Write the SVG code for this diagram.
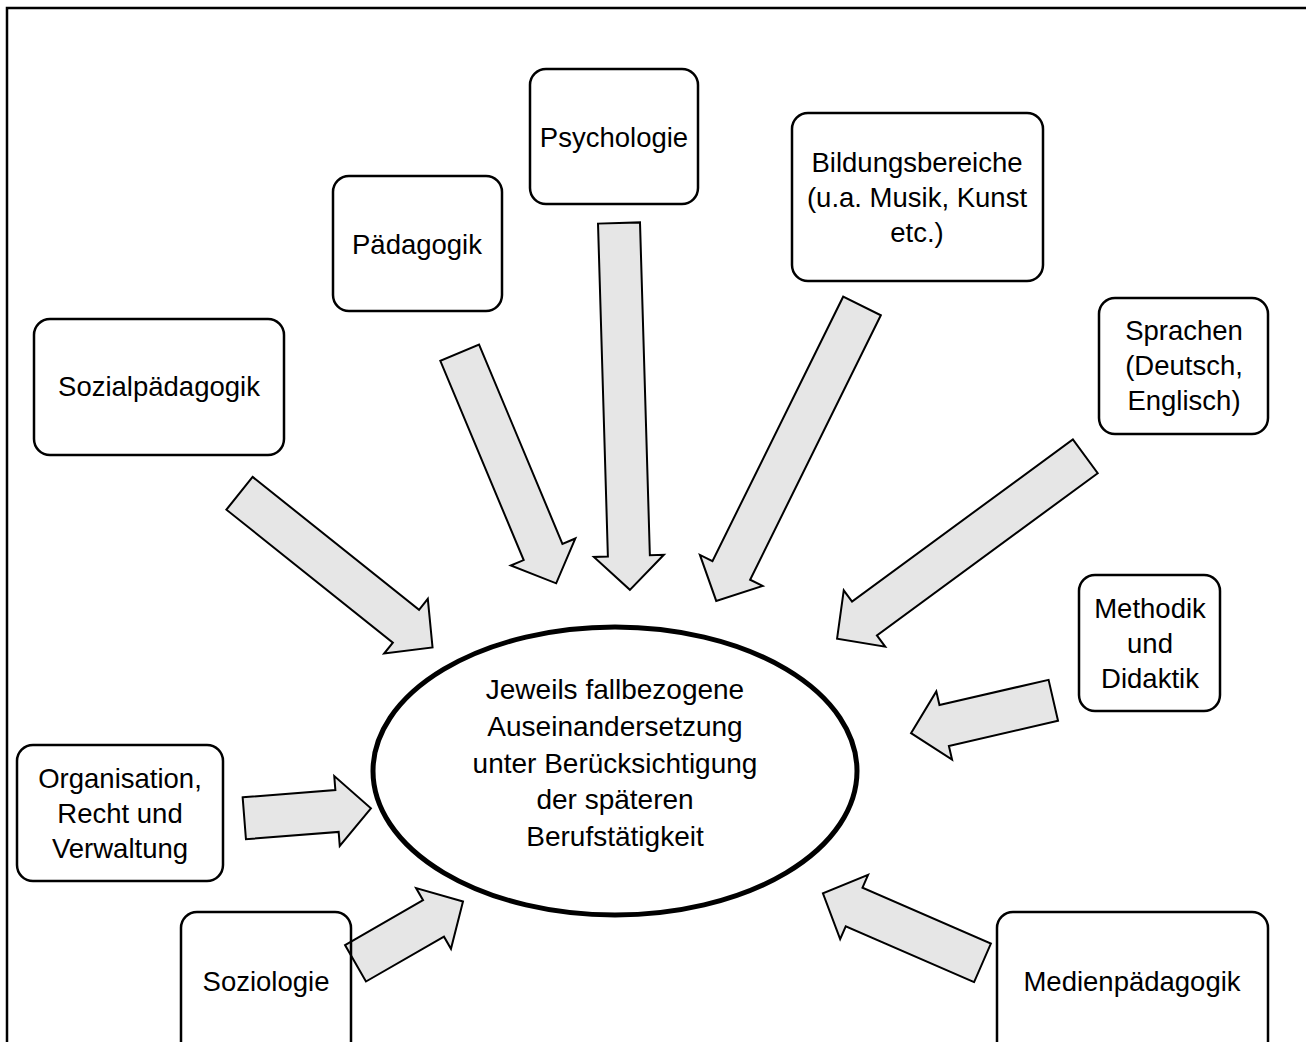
<svg xmlns="http://www.w3.org/2000/svg" width="1306" height="1042" viewBox="0 0 1306 1042">
<style>
.box{fill:none;stroke:#000;stroke-width:2.5}
.arr{fill:#e6e6e6;stroke:#000;stroke-width:2;stroke-linejoin:miter}
text{font-family:"Liberation Sans",Arial,sans-serif;font-size:27.5px;fill:#000;text-anchor:middle}
.big{font-size:28px}
</style>
<rect width="1306" height="1042" fill="#fff"/>
<path d="M7,1042 V8 H1306" fill="none" stroke="#000" stroke-width="2.5"/>
<g id="connectors">
<polygon class="arr" transform="translate(239.5,493.3) rotate(38.6)" points="0,-21 213,-21 213,-35 247,0 213,35 213,21 0,21"/>
<polygon class="arr" transform="translate(459.7,352.7) rotate(67.3)" points="0,-21 216,-21 216,-35 250,0 216,35 216,21 0,21"/>
<polygon class="arr" transform="translate(619,223) rotate(88.3)" points="0,-21 333,-21 333,-35 367,0 333,35 333,21 0,21"/>
<polygon class="arr" transform="translate(862,306) rotate(116.3)" points="0,-21 295,-21 295,-35 329,0 295,35 295,21 0,21"/>
<polygon class="arr" transform="translate(1085.3,456.3) rotate(143.7)" points="0,-21 274,-21 274,-35 308,0 274,35 274,21 0,21"/>
<polygon class="arr" transform="translate(1053.3,700.3) rotate(167)" points="0,-21 112,-21 112,-35 146,0 112,35 112,21 0,21"/>
<polygon class="arr" transform="translate(244.3,818.3) rotate(-4.5)" points="0,-21 93,-21 93,-35 127,0 93,35 93,21 0,21"/>
<polygon class="arr" transform="translate(355.5,963.3) rotate(-29.9)" points="0,-21 90,-21 90,-35 124,0 90,35 90,21 0,21"/>
<polygon class="arr" transform="translate(982.5,962.8) rotate(203.5)" points="0,-21 140,-21 140,-35 174,0 140,35 140,21 0,21"/>
</g>
<g id="center">
<ellipse cx="615" cy="771" rx="242" ry="144" fill="none" stroke="#000" stroke-width="5"/>
<text class="big" x="615" y="699">Jeweils fallbezogene</text>
<text class="big" x="615" y="736">Auseinandersetzung</text>
<text class="big" x="615" y="773">unter Berücksichtigung</text>
<text class="big" x="615" y="809">der späteren</text>
<text class="big" x="615" y="846">Berufstätigkeit</text>
</g>
<g id="psychologie">
<rect class="box" x="530" y="69" width="168" height="135" rx="16"/>
<text x="614" y="147">Psychologie</text>
</g>
<g id="paedagogik">
<rect class="box" x="333" y="176" width="169" height="135" rx="16"/>
<text x="417" y="254">Pädagogik</text>
</g>
<g id="bildungsbereiche">
<rect class="box" x="792" y="113" width="251" height="168" rx="16"/>
<text x="917" y="172">Bildungsbereiche</text>
<text x="917" y="207">(u.a. Musik, Kunst</text>
<text x="917" y="242">etc.)</text>
</g>
<g id="sozialpaedagogik">
<rect class="box" x="34" y="319" width="250" height="136" rx="16"/>
<text x="159" y="396">Sozialpädagogik</text>
</g>
<g id="sprachen">
<rect class="box" x="1099" y="298" width="169" height="136" rx="16"/>
<text x="1184" y="340">Sprachen</text>
<text x="1184" y="375">(Deutsch,</text>
<text x="1184" y="410">Englisch)</text>
</g>
<g id="methodik">
<rect class="box" x="1079" y="575" width="141" height="136" rx="16"/>
<text x="1150" y="618">Methodik</text>
<text x="1150" y="653">und</text>
<text x="1150" y="688">Didaktik</text>
</g>
<g id="organisation">
<rect class="box" x="17" y="745" width="206" height="136" rx="16"/>
<text x="120" y="788">Organisation,</text>
<text x="120" y="823">Recht und</text>
<text x="120" y="858">Verwaltung</text>
</g>
<g id="soziologie">
<rect class="box" x="181" y="912" width="170" height="150" rx="16"/>
<text x="266" y="991">Soziologie</text>
</g>
<g id="medienpaedagogik">
<rect class="box" x="997" y="912" width="271" height="150" rx="16"/>
<text x="1132" y="991">Medienpädagogik</text>
</g>
</svg>
